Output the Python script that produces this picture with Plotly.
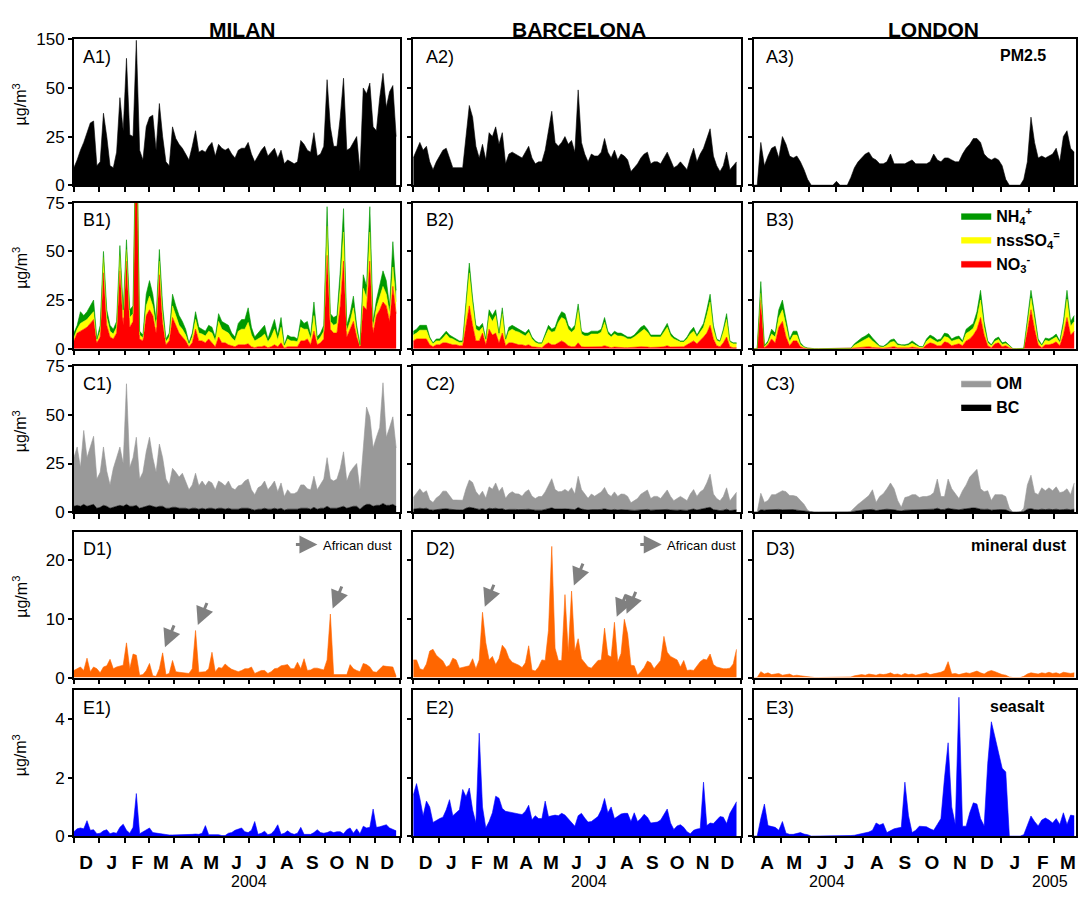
import plotly.graph_objects as go
import pandas as pd

# ---------------- DATA ----------------
# sampling grids (4-day steps)
mb_dates = [d.strftime('%Y-%m-%d') for d in pd.date_range('2003-12-01', periods=99, freq='4D')]
ld_dates = [d.strftime('%Y-%m-%d') for d in pd.date_range('2004-04-01', periods=90, freq='4D')]

months_mb = ['D', 'J', 'F', 'M', 'A', 'M', 'J', 'J', 'A', 'S', 'O', 'N', 'D']
months_ld = ['A', 'M', 'J', 'J', 'A', 'S', 'O', 'N', 'D', 'J', 'F', 'M']
cities = ['MILAN', 'BARCELONA', 'LONDON']

# ---- MILAN ----
pm25_mil = [9, 13, 18, 22, 27, 32, 33, 10, 12, 37,
            25, 10, 9, 17, 45, 28, 111, 26, 25, 148,
            18, 13, 30, 35, 36, 18, 42, 25, 12, 10,
            30, 24, 21, 19, 16, 13, 20, 28, 17, 18,
            17, 20, 22, 15, 21, 19, 18, 19, 16, 14,
            18, 19, 19, 22, 16, 12, 15, 18, 20, 15,
            17, 19, 14, 18, 11, 13, 12, 11, 12, 23,
            21, 18, 17, 27, 15, 16, 20, 67, 30, 20,
            20, 35, 70, 18, 19, 22, 25, 7, 50, 47,
            60, 30, 28, 45, 80, 40, 48, 55, 25]
no3_mil = [4, 8, 9, 10, 11, 13, 15, 3, 6, 39,
           12, 6, 5, 8, 40, 12, 45, 11, 14, 115,
           5, 4, 17, 20, 17, 8, 38, 13, 2, 4,
           16, 12, 8, 6, 4, 1, 3, 10, 4, 4,
           3, 5, 3, 1, 6, 3, 3, 2, 1.5, 1,
           2, 2, 2, 2.5, 1, 0.5, 1, 1, 1.5, 0.5,
           1, 2, 1, 3, 0.2, 1, 1, 1, 1, 4,
           4, 5, 2, 9, 2, 3, 5, 48, 10, 8,
           8, 22, 45, 6, 10, 14, 6, 1, 22, 20,
           45, 8, 17, 20, 24, 22, 14, 32, 18]
so4_mil = [1.5, 2, 4, 4, 4, 4, 4, 1, 3, 8,
           4, 3, 2.5, 3, 8, 4, 6, 5, 4, 10,
           2, 1.5, 5, 7, 5, 3, 7, 4, 1.5, 2,
           6, 5, 4, 4, 3, 1, 3, 5, 4, 3.5,
           3.5, 4, 5, 3, 8, 7, 6, 6, 4, 3,
           7, 8, 8, 11, 6, 3.5, 4, 5, 6, 3,
           5, 8, 3.5, 8, 1, 4, 3, 3, 2.5, 7,
           6, 5, 3, 8, 2, 3, 4, 15, 4, 4,
           5, 10, 15, 3, 4, 7, 3, 0.5, 9, 6,
           15, 3, 4, 6, 8, 6, 4, 10, 6]
nh4_mil = [2.5, 2, 6, 3, 4, 5, 6, 1, 3, 3,
           4, 3, 2.5, 3, 5, 4, 5, 4, 4, 5,
           2, 1.5, 6, 8, 6, 4, 6, 5, 1.5, 2,
           6, 5, 5, 4, 3, 1, 2, 4, 3, 2.5,
           2.5, 3, 3, 2, 4, 4, 4, 4, 2.5, 2,
           4, 5, 5, 7.5, 4, 2, 3, 4, 4.5, 1.5,
           4, 5, 2.5, 5, 0.8, 2, 2, 2, 1.5, 4,
           3, 4, 2, 7, 2, 2, 3, 10, 4, 4,
           4, 8, 12, 3, 4, 6, 3, 0.5, 7, 6,
           13, 3, 4, 7, 8, 7, 4, 13, 6]
om_mil = [25, 30, 20, 38, 25, 30, 35, 15, 18, 30,
          18, 12, 20, 25, 30, 22, 62, 20, 25, 35,
          15, 18, 28, 35, 25, 18, 32, 25, 15, 12,
          20, 18, 16, 18, 14, 10, 12, 18, 12, 14,
          12, 14, 13, 10, 14, 13, 12, 14, 11, 10,
          12, 12, 14, 15, 10, 8, 11, 12, 14, 10,
          12, 14, 9, 13, 7, 10, 8, 8, 9, 12,
          12, 10, 10, 16, 10, 12, 15, 25, 15, 14,
          15, 20, 28, 14, 18, 20, 22, 10, 30, 50,
          45, 30, 35, 40, 62, 35, 40, 45, 30]
bc_mil = [3, 3.5, 3, 4, 3, 3.5, 4, 2, 2.5, 3.5,
          3, 2, 2.5, 3, 3.5, 3, 4, 3, 3, 3.5,
          2, 2.5, 3, 3.5, 3, 2.5, 3, 3, 2, 2,
          2.5, 2.5, 2, 2, 2, 1.5, 2, 2, 1.5, 2,
          1.5, 2, 2, 1.5, 2, 2, 1.5, 2, 1.5, 1.5,
          1.5, 2, 2, 2, 1.5, 1, 1.5, 1.5, 2, 1.5,
          1.5, 2, 1.5, 2, 1, 1.5, 1.5, 1.5, 1.5, 2,
          2, 2, 1.5, 2.5, 1.5, 2, 2, 3, 2, 2,
          2, 2.5, 3, 2, 2.5, 3, 3, 1.5, 3, 4,
          4, 3, 3.5, 3.5, 4.5, 3.5, 3.5, 4, 3]
dust_mil = [1.2, 1.5, 1.8, 1.2, 3.3, 1.0, 1.8, 1.5, 0.8, 1.8,
            2.0, 3.1, 1.5, 1.8, 1.9, 2.1, 5.9, 1.5, 4.0, 3.8,
            0.4, 0.5, 1.2, 2.4, 0.3, 0.2, 1.5, 4.2, 0.5, 0.7,
            2.9, 1.0, 0.9, 0.8, 0.8, 0.7, 1.5, 8.0, 0.9, 0.9,
            1.0, 1.5, 4.3, 1.0, 1.7, 1.6, 2.3, 1.8, 1.4, 1.2,
            1.0, 1.2, 1.5, 1.5, 1.8, 0.7, 0.9, 1.2, 1.2, 0.7,
            1.0, 1.5, 1.6, 2.0, 2.1, 2.2, 1.5, 1.5, 2.6, 1.5,
            3.2, 1.2, 1.3, 1.6, 1.6, 1.4, 1.3, 3.0, 10.8, 0.5,
            0.5, 0.5, 0.4, 0.5, 2.2, 1.5, 1.2, 1.0, 2.4, 2.2,
            1.8, 1.0, 0.9, 1.5, 2.0, 1.9, 1.8, 1.8, 0.2]
salt_mil = [0.15, 0.25, 0.28, 0.25, 0.53, 0.2, 0.22, 0.08, 0.1, 0.18,
            0.22, 0.08, 0.12, 0.1, 0.3, 0.41, 0.2, 0.1, 0.3, 1.46,
            0.08, 0.15, 0.2, 0.28, 0.12, 0.1, 0.08, 0.08, 0.06, 0.04,
            0.04, 0.04, 0.05, 0.05, 0.05, 0.05, 0.06, 0.07, 0.06, 0.1,
            0.36, 0.05, 0.05, 0.06, 0.05, 0.02, 0.02, 0.1, 0.12, 0.2,
            0.25, 0.28, 0.15, 0.12, 0.2, 0.5, 0.06, 0.1, 0.17, 0.05,
            0.08, 0.2, 0.39, 0.06, 0.1, 0.18, 0.1, 0.06, 0.1, 0.3,
            0.06, 0.06, 0.06, 0.12, 0.22, 0.12, 0.1, 0.12, 0.17, 0.12,
            0.15, 0.15, 0.08, 0.22, 0.28, 0.1, 0.25, 0.08, 0.34, 0.28,
            0.3, 0.93, 0.3, 0.32, 0.35, 0.39, 0.28, 0.22, 0.18]
dust_arrows_mil = [27, 37, 78]

# ---- BARCELONA ----
pm25_bcn = [14, 18, 22, 18, 20, 12, 8, 12, 15, 18,
            19, 14, 9, 9, 9, 9, 25, 41, 35, 20,
            14, 21, 13, 27, 25, 30, 21, 27, 11, 16,
            17, 16, 15, 14, 17, 20, 14, 11, 12, 12,
            18, 28, 38, 22, 20, 22, 25, 21, 23, 17,
            49, 22, 16, 12, 16, 15, 15, 17, 24, 17,
            14, 18, 13, 16, 15, 13, 7, 9, 11, 14,
            16, 17, 11, 12, 12, 11, 14, 17, 13, 9,
            10, 12, 10, 8, 14, 19, 12, 16, 19, 24,
            29, 15, 10, 7, 10, 17, 8, 10, 12]
no3_bcn = [4, 5, 5, 5, 5, 2, 1, 2, 2, 3,
           3, 2.5, 2, 2, 1.5, 1.5, 12, 22, 12, 4,
           4, 8, 2, 10, 7, 8, 3, 8, 1.5, 3,
           3, 2.5, 2, 2, 1.5, 2, 1, 0.8, 0.5, 0.5,
           2, 3, 2, 2, 3, 4, 3, 1.5, 1, 1,
           3, 1, 0.8, 0.8, 0.8, 0.8, 0.8, 1, 1.5, 0.8,
           0.5, 0.8, 0.6, 0.6, 0.5, 0.5, 0.5, 0.6, 0.8, 1,
           1, 0.8, 0.6, 0.6, 0.6, 0.8, 1, 1.5, 0.8, 0.8,
           0.8, 1, 1, 2, 3, 4, 2.5, 4, 6, 8,
           12, 5, 1.5, 1, 3, 6, 1, 0.5, 0.5]
so4_bcn = [3, 3, 4.5, 4.5, 4.5, 3, 1.5, 2, 2, 2.5,
           4.5, 3, 3, 2, 1.7, 1.7, 10, 17, 11, 6,
           5, 3, 2, 7, 7, 9, 3.5, 10, 2.5, 6,
           7, 6.5, 6.5, 5.5, 5, 6.5, 4, 2.4, 2, 2,
           4.5, 7, 6.5, 7, 10.5, 12, 12, 8.5, 7.5, 9,
           17, 6.5, 5.7, 5.7, 6.7, 6.7, 6.7, 7.5, 12, 6.7,
           5.5, 6.7, 5.9, 5.9, 5.5, 4.5, 4.5, 5.4, 6.7, 8,
           9, 7.7, 5.4, 5.4, 5.4, 5.2, 7.5, 9.5, 5.7, 4.2,
           3.4, 2.4, 2.4, 3, 4.5, 5, 3.5, 4.5, 5, 9,
           12, 5, 2.7, 2.4, 5.5, 9, 2.4, 2, 2]
nh4_bcn = [2, 2, 2.5, 2.5, 2.5, 1, 0.5, 1, 1, 1.5,
           1.5, 1.5, 1, 1, 0.8, 0.8, 3, 5, 3, 2,
           2, 2, 1, 3, 3, 3, 1.5, 3, 1, 2,
           2, 2, 1.5, 1.5, 1.5, 1.5, 1, 0.8, 0.5, 0.5,
           1.5, 2, 1.5, 2, 2.5, 3, 3, 2, 1.5, 2,
           3, 1.5, 1.5, 1.5, 1.5, 1.5, 1.5, 1.5, 2.5, 1.5,
           1, 1.5, 1.5, 1.5, 1, 1, 1, 1, 1.5, 2,
           2, 1.5, 1, 1, 1, 1, 1.5, 2, 1.5, 1,
           0.8, 0.6, 0.6, 1, 1.5, 2, 1, 1.5, 2, 3,
           4, 2, 0.8, 0.6, 1.5, 3, 0.6, 0.5, 0.5]
om_bcn = [6, 8, 10, 8, 9, 5, 4, 6, 7, 9,
          9, 7, 5, 5, 5, 5, 10, 14, 13, 9,
          7, 9, 6, 11, 10, 13, 9, 11, 6, 8,
          9, 8, 8, 7, 9, 10, 7, 6, 7, 7,
          9, 12, 15, 10, 9, 9, 10, 9, 11, 8,
          16, 10, 8, 6, 8, 7, 8, 9, 11, 8,
          7, 9, 7, 8, 8, 7, 4, 5, 6, 8,
          9, 10, 6, 7, 7, 6, 8, 10, 7, 5,
          6, 7, 6, 5, 8, 10, 7, 9, 10, 13,
          17, 8, 6, 5, 7, 11, 5, 7, 9]
bc_bcn = [1.5, 1.8, 2, 1.8, 2, 1.2, 1, 1.3, 1.5, 1.8,
          1.8, 1.5, 1.2, 1.2, 1.1, 1.1, 2, 2.5, 2.2, 1.6,
          1.4, 1.8, 1.2, 2, 1.8, 2, 1.6, 1.8, 1.1, 1.4,
          1.5, 1.4, 1.3, 1.2, 1.4, 1.5, 1.2, 1, 1, 1,
          1.4, 1.8, 2.2, 1.6, 1.5, 1.6, 1.7, 1.5, 1.6, 1.3,
          2.4, 1.6, 1.3, 1.1, 1.3, 1.2, 1.3, 1.4, 1.7, 1.3,
          1.1, 1.4, 1.1, 1.3, 1.2, 1.1, 0.8, 0.9, 1, 1.2,
          1.3, 1.4, 1, 1.1, 1.1, 1, 1.2, 1.4, 1.1, 0.9,
          1, 1.1, 1, 0.9, 1.3, 1.6, 1.1, 1.4, 1.6, 2,
          2.5, 1.3, 1, 0.8, 1, 1.5, 0.8, 1, 1.2]
dust_bcn = [3.0, 3.0, 1.5, 1.3, 2.3, 4.5, 4.8, 3.8, 3.3, 2.8,
            1.8, 2.1, 3.3, 3.0, 1.6, 1.7, 1.9, 2.0, 3.2, 1.5,
            3.0, 11.1, 5.9, 3.0, 3.6, 2.2, 3.2, 5.5, 4.8, 3.3,
            2.6, 2.4, 2.1, 1.7, 2.5, 5.4, 1.3, 1.1, 1.8, 3.0,
            2.9, 8.0, 22.3, 5.0, 2.9, 2.9, 14.1, 4.3, 14.7, 4.5,
            6.6, 3.2, 2.5, 1.8, 1.6, 2.2, 2.9, 3.0, 8.4, 3.8,
            3.5, 9.4, 2.6, 4.1, 9.9, 7.4, 2.1, 2.0, 0.4, 1.0,
            1.7, 2.8, 2.5, 1.5, 2.3, 2.9, 7.0, 4.3, 3.6, 3.3,
            3.0, 1.8, 2.9, 1.2, 1.3, 1.2, 2.0, 2.7, 3.1, 3.0,
            4.0, 2.2, 1.8, 1.6, 1.5, 1.5, 1.6, 2.3, 4.8]
salt_bcn = [1.4, 1.8, 1.3, 0.7, 1.2, 1.0, 0.47, 0.55, 0.6, 0.65,
            0.9, 1.25, 0.7, 0.8, 0.9, 1.6, 1.35, 1.65, 0.9, 0.45,
            3.53, 1.0, 0.28, 0.5, 0.8, 1.37, 1.3, 0.95, 0.85, 0.83,
            0.8, 0.78, 0.76, 0.74, 0.85, 1.06, 0.56, 0.7, 0.6, 0.6,
            1.2, 0.67, 0.7, 0.72, 0.7, 0.78, 0.72, 0.58, 0.46, 0.34,
            0.7, 0.78, 0.62, 0.48, 0.5, 0.58, 0.67, 0.9, 1.29, 0.8,
            1.0, 0.6, 0.68, 0.76, 0.78, 0.78, 0.5, 0.8, 0.5, 0.6,
            0.75, 0.65, 0.45, 0.46, 0.48, 0.55, 0.75, 0.93, 0.45, 0.23,
            0.35, 0.39, 0.3, 0.15, 0.08, 0.2, 0.24, 0.26, 1.85, 0.36,
            0.45, 0.43, 0.55, 0.67, 0.65, 0.43, 0.78, 1.0, 1.18]
dust_arrows_bcn = [21, 48, 61, 64]

# ---- LONDON ----
pm25_lon = [0, 0, 22, 10, 15, 19, 20, 14, 25, 21,
            15, 14, 15, 12, 8, 3, 0, 0, 0, 0,
            0, 0, 0, 2, 0, 0, 0, 4, 9, 12,
            14, 16, 17, 14, 13, 11, 11, 12, 16, 11,
            11, 11, 11, 12, 13, 11, 11, 11, 11, 12,
            16, 13, 12, 14, 14, 13, 12, 12, 16, 19,
            21, 24, 24, 22, 16, 14, 13, 14, 13, 10,
            3, 0, 0, 0, 0, 3, 12, 35, 22, 14,
            15, 14, 15, 16, 19, 12, 25, 28, 19, 17]
no3_lon = [0, 0, 25, 0.5, 2, 5, 3, 11, 14, 6,
           1.5, 4, 4, 1, 0.3, 0.1, 0, 0, 0, 0,
           0, 0, 0, 0, 0, 0, 0, 0, 0.3, 0.5,
           0.6, 0.8, 1, 0.6, 0.4, 0.2, 0.2, 0.4, 0.8, 1,
           0.4, 0.3, 0.3, 0.4, 0.8, 0.4, 0.2, 0.2, 2, 3,
           2.5, 1.5, 1.5, 3.5, 3, 1.5, 2, 2.5, 1.5, 4,
           5, 7, 10, 16, 7, 1.5, 0.5, 2.5, 3, 1,
           1.5, 0.5, 0, 0, 0, 0, 9, 20, 10, 2,
           0.5, 2, 2, 2.5, 3.5, 1.5, 7, 16, 7, 9]
so4_lon = [0, 0, 3.5, 0.5, 1, 2.5, 3, 5, 6, 5,
           2, 3, 3, 1, 0.4, 0.1, 0, 0, 0, 0,
           0, 0, 0, 0, 0, 0, 0, 0.1, 1.4, 2.3,
           3.4, 4.2, 4.8, 3.4, 2.1, 0.8, 0.6, 1.3, 2.5, 2.7,
           1.3, 1.1, 1.1, 1.4, 2, 1.3, 0.6, 0.5, 1.8, 2.5,
           2, 1.8, 2.3, 2.7, 2.7, 2.3, 2.5, 2.5, 1.5, 3.8,
           4, 3.5, 5.5, 9, 4, 1.5, 1, 1.3, 1.7, 1.2,
           1.2, 0.6, 0, 0, 0, 0.1, 3.5, 6, 5, 1.8,
           1, 2.3, 1.8, 2.2, 2.5, 1.5, 4.5, 9.5, 4.5, 5]
nh4_lon = [0, 0, 6, 0.5, 1, 2.5, 2, 4, 5, 4,
           1.5, 2, 2, 1, 0.3, 0.1, 0, 0, 0, 0,
           0, 0, 0, 0, 0, 0, 0, 0.1, 0.8, 1.2,
           1.5, 1.5, 2, 1.5, 1, 0.5, 0.4, 0.8, 1.2, 1.3,
           0.8, 0.6, 0.6, 0.7, 1.2, 0.8, 0.4, 0.3, 1.2, 1.5,
           1.5, 1.2, 1.2, 1.8, 1.8, 1.2, 1.5, 1.5, 1, 2.2,
           2.5, 2.5, 3.5, 5, 3, 1, 0.5, 1.2, 1.3, 0.8,
           0.8, 0.4, 0, 0, 0, 0.1, 2.5, 4, 3, 1.2,
           0.5, 1.2, 1.2, 1.3, 1.5, 1, 2.5, 4.5, 2.5, 3]
om_lon = [0, 0, 8.5, 4, 4.8, 7.7, 7.8, 8.6, 9.8, 9.2,
          7.4, 7.2, 7, 5.2, 3.5, 0.8, 0, 0, 0, 0,
          0, 0, 0, 0, 0, 0, 0, 0.4, 2, 3.2,
          4.5, 5.8, 7.2, 10.1, 4.2, 6.8, 8.2, 10.5, 13.6, 10.8,
          5.2, 1.9, 6.5, 6.9, 7.8, 7.8, 6.4, 6.8, 6.7, 7.1,
          8.5, 15, 6.7, 6.6, 15, 10.4, 8.1, 5.8, 9.5, 12.2,
          16, 17.8, 20, 10.5, 9.1, 9.5, 5, 7.7, 7.7, 7.7,
          6.8, 1.6, 0, 0, 0, 1.7, 12.5, 17.2, 8.7, 7.8,
          11, 9.7, 11, 9.7, 11.5, 8.8, 9.2, 10.5, 7.8, 13.5]
bc_lon = [0, 0, 1.2, 1, 1.2, 1.3, 1.2, 1.4, 1.2, 1.3,
          1.1, 1.3, 1, 0.8, 0.5, 0.2, 0, 0, 0, 0,
          0, 0, 0, 0, 0, 0, 0, 0.1, 0.5, 0.8,
          1, 1.2, 1.3, 1.4, 0.8, 1.2, 1.3, 1.5, 1.4, 1.2,
          0.8, 0.6, 1, 1.1, 1.2, 1.2, 1.1, 1.2, 1.3, 1.4,
          1.5, 2, 1.3, 1.4, 2, 1.6, 1.4, 1.2, 1.5, 1.8,
          2, 2.2, 2, 1.5, 1.4, 1.5, 1, 1.3, 1.3, 1.3,
          1.2, 0.4, 0, 0, 0, 0.3, 1.5, 1.8, 1.3, 1.2,
          1.5, 1.3, 1.5, 1.3, 1.5, 1.2, 1.3, 1.5, 1.2, 1.5]
dust_lon = [0, 0, 1.0, 0.6, 0.8, 0.5, 0.6, 0.7, 0.4, 0.5,
            0.6, 0.3, 0.4, 0.3, 0.2, 0.1, 0, 0, 0, 0,
            0, 0, 0, 0, 0, 0, 0, 0.1, 0.3, 0.4,
            0.5, 0.4, 0.6, 0.5, 0.4, 0.6, 0.5, 0.6, 0.8, 0.5,
            0.6, 0.4, 0.7, 0.5, 0.6, 0.4, 0.5, 0.6, 0.8, 0.5,
            0.6, 0.7, 0.9, 1.2, 2.7, 0.6, 0.7, 0.5, 0.6, 0.8,
            0.7, 0.9, 1.1, 0.8, 0.6, 1.0, 1.2, 1.0, 0.7, 0.5,
            0.4, 0.1, 0, 0, 0, 0.2, 0.6, 0.8, 0.7, 0.6,
            0.8, 0.7, 0.9, 0.7, 0.8, 0.6, 0.9, 0.8, 0.7, 0.8]
salt_lon = [0, 0, 0.6, 1.1, 0.36, 0.33, 0.3, 0.2, 0.5, 0.1,
            0.06, 0.06, 0.08, 0.12, 0.07, 0.05, 0, 0, 0, 0,
            0, 0, 0, 0, 0, 0, 0, 0.02, 0.03, 0.06,
            0.08, 0.1, 0.14, 0.2, 0.45, 0.38, 0.43, 0.12, 0.18, 0.25,
            0.28, 0.3, 1.85, 0.7, 0.12, 0.2, 0.34, 0.34, 0.32, 0.25,
            0.2, 0.4, 0.6, 2.0, 3.2, 1.0, 0.4, 4.76, 0.34, 0.34,
            0.8, 1.14, 1.1, 0.6, 0.35, 2.5, 3.92, 3.4, 2.9, 2.33,
            2.2, 0, 0, 0, 0, 0.05, 0.4, 0.69, 0.5, 0.35,
            0.55, 0.62, 0.55, 0.45, 0.6, 0.4, 0.8, 0.4, 0.72, 0.7]

# ---------------- LAYOUT HELPERS ----------------
W, H = 1078, 898
FONT = "Liberation Sans, Arial, Helvetica, sans-serif"
COL_PX = [(74, 401), (414, 742), (755, 1078)]
ROW_PX = [(31, 180), (198, 347), (365, 514), (534, 683), (696, 845)]


def fx(p):
    return p / W


def fy(p):
    return 1 - p / H


def axn(k):
    return ('' if k == 1 else str(k))


C_PM, C_NO3, C_SO4, C_NH4 = '#000000', '#ff0000', '#ffff00', '#009900'
C_OM, C_BC, C_DUST, C_SALT = '#999999', '#000000', '#ff6600', '#0000ff'


def broken(v):
    # broken y-axis in row A: 0-50 linear, 50-150 compressed into one tick step
    return [x if x <= 50 else 50 + (x - 50) / 4.0 for x in v]


city_data = [
    dict(d=mb_dates, pm=pm25_mil, no3=no3_mil, so4=so4_mil, nh4=nh4_mil, om=om_mil, bc=bc_mil, dust=dust_mil, salt=salt_mil),
    dict(d=mb_dates, pm=pm25_bcn, no3=no3_bcn, so4=so4_bcn, nh4=nh4_bcn, om=om_bcn, bc=bc_bcn, dust=dust_bcn, salt=salt_bcn),
    dict(d=ld_dates, pm=pm25_lon, no3=no3_lon, so4=so4_lon, nh4=nh4_lon, om=om_lon, bc=bc_lon, dust=dust_lon, salt=salt_lon),
]

fig = go.Figure()


def area(k, dates, vals, color, name='', stack=None, legend=None):
    kw = dict(x=dates[:len(vals)], y=vals, mode='lines', line=dict(color=color, width=0.6),
              fillcolor=color, xaxis='x' + axn(k), yaxis='y' + axn(k), hoverinfo='skip',
              name=name, showlegend=legend is not None)
    if stack:
        kw['stackgroup'] = stack
    else:
        kw['fill'] = 'tozeroy'
    if legend:
        kw['legend'] = legend
    fig.add_trace(go.Scatter(**kw))


for c, cd in enumerate(city_data):
    d = cd['d']
    k = 0 * 3 + c + 1
    area(k, d, broken(cd['pm']), C_PM)
    k = 1 * 3 + c + 1
    lg = 'legend' if c == 2 else None
    area(k, d, cd['no3'], C_NO3, '<b>NO<sub>3</sub><sup>-</sup></b>', stack='b%d' % c, legend=lg)
    area(k, d, cd['so4'], C_SO4, '<b>nssSO<sub>4</sub><sup>=</sup></b>', stack='b%d' % c, legend=lg)
    area(k, d, cd['nh4'], C_NH4, '<b>NH<sub>4</sub><sup>+</sup></b>', stack='b%d' % c, legend=lg)
    k = 2 * 3 + c + 1
    lg = 'legend2' if c == 2 else None
    area(k, d, cd['bc'], C_BC, '<b>BC</b>', stack='c%d' % c, legend=lg)
    area(k, d, cd['om'], C_OM, '<b>OM</b>', stack='c%d' % c, legend=lg)
    k = 3 * 3 + c + 1
    area(k, d, cd['dust'], C_DUST)
    k = 4 * 3 + c + 1
    area(k, d, cd['salt'], C_SALT)

# ---------------- AXES ----------------
ms_mb = [d.strftime('%Y-%m-%d') for d in pd.date_range('2003-12-01', '2005-01-01', freq='MS')]
ms_ld = [d.strftime('%Y-%m-%d') for d in pd.date_range('2004-04-01', '2005-04-01', freq='MS')]
mid_mb = [(pd.Timestamp(m) + pd.Timedelta(days=15)).strftime('%Y-%m-%d') for m in ms_mb[:13]]
mid_ld = [(pd.Timestamp(m) + pd.Timedelta(days=15)).strftime('%Y-%m-%d') for m in ms_ld[:12]]

Y_RANGES = [75, 75, 75, 24.8, 5.0]
Y_TICKS = [([0, 25, 50, 75], ['0', '25', '50', '150']),
           ([0, 25, 50, 75], ['0', '25', '50', '75']),
           ([0, 25, 50, 75], ['0', '25', '50', '75']),
           ([0, 10, 20], ['0', '10', '20']),
           ([0, 2, 4], ['0', '2', '4'])]

layout = dict()
for r in range(5):
    for c in range(3):
        k = r * 3 + c + 1
        if c < 2:
            rng, starts, mids, letters = ['2003-12-01', '2005-01-01'], ms_mb, mid_mb, months_mb
        else:
            rng, starts, mids, letters = ['2004-04-01', '2005-03-25'], ms_ld, mid_ld, months_ld
        layout['xaxis' + axn(k)] = dict(
            domain=[fx(COL_PX[c][0]), fx(COL_PX[c][1])], range=rng, type='date',
            anchor='y' + axn(k), showline=True, linecolor='black', linewidth=1.5, mirror=True,
            showgrid=False, zeroline=False,
            tickmode='array', tickvals=mids, ticktext=['<b>%s</b>' % t for t in letters],
            ticks='outside', ticklen=0, tickcolor='black',
            showticklabels=(r == 4), ticklabelstandoff=8,
            tickfont=dict(size=19, family=FONT, color='black'),
            minor=dict(tickmode='array', tickvals=starts, ticks='outside', ticklen=5,
                       tickwidth=1.5, tickcolor='black', showgrid=False))
        tv, tt = Y_TICKS[r]
        layout['yaxis' + axn(k)] = dict(
            domain=[fy(ROW_PX[r][1]), fy(ROW_PX[r][0])], range=[0, Y_RANGES[r]],
            anchor='x' + axn(k), showline=True, linecolor='black', linewidth=1.5, mirror=True,
            showgrid=False, zeroline=False, tickmode='array', tickvals=tv, ticktext=tt,
            ticks='outside', ticklen=4, tickwidth=1.5, tickcolor='black',
            showticklabels=(c == 0), tickfont=dict(size=17, family=FONT, color='black'))

# ---------------- ANNOTATIONS ----------------
ann = []
lab_off = [7.5, 10.5, 10]
for r in range(5):
    for c in range(3):
        k = r * 3 + c + 1
        wpx = COL_PX[c][1] - COL_PX[c][0]
        hpx = ROW_PX[r][1] - ROW_PX[r][0]
        ann.append(dict(text='%s%d)' % ('ABCDE'[r], c + 1), xref='x%s domain' % axn(k),
                        yref='y%s domain' % axn(k), x=lab_off[c] / wpx, y=1 - 18.0 / hpx,
                        xanchor='left', yanchor='middle', showarrow=False,
                        font=dict(size=18, family=FONT, color='black')))

for r in range(5):
    yc = (ROW_PX[r][0] + ROW_PX[r][1]) / 2 - 8
    ann.append(dict(text='µg/m<sup>3</sup>', xref='paper', yref='paper', x=fx(20), y=fy(yc),
                    textangle=-90, showarrow=False, xanchor='center', yanchor='middle',
                    font=dict(size=16, family=FONT, color='black')))

for name, xc in zip(cities, [243, 580, 935]):
    ann.append(dict(text='<b>%s</b>' % name, xref='paper', yref='paper', x=fx(xc), y=fy(21),
                    showarrow=False, xanchor='center', yanchor='middle',
                    font=dict(size=21, family=FONT, color='black')))

for txt, xc, yc in [('PM2.5', 1025, 48), ('mineral dust', 1021, 548), ('seasalt', 1019, 713)]:
    ann.append(dict(text='<b>%s</b>' % txt, xref='paper', yref='paper', x=fx(xc), y=fy(yc),
                    showarrow=False, xanchor='center', yanchor='middle',
                    font=dict(size=16, family=FONT, color='black')))

# year labels
for k, xd, yr in [(13, '2004-07-01', '2004'), (14, '2004-07-01', '2004'),
                  (15, '2004-06-22', '2004'), (15, '2005-02-24', '2005')]:
    ann.append(dict(text=yr, xref='x%d' % k, yref='paper', x=xd, y=fy(891), showarrow=False,
                    xanchor='center', yanchor='middle', font=dict(size=16, family=FONT, color='black')))

# African dust legend + arrows
for xhead, xtext in [(318, 322), (663, 666)]:
    ann.append(dict(text='', xref='paper', yref='paper', x=fx(xhead), y=fy(547), ax=-23, ay=0,
                    showarrow=True, arrowhead=2, arrowsize=1.2, arrowwidth=3, arrowcolor='#808080'))
    ann.append(dict(text='African dust', xref='paper', yref='paper', x=fx(xtext), y=fy(548),
                    showarrow=False, xanchor='left', yanchor='middle',
                    font=dict(size=13, family=FONT, color='black')))

for k, dates, vals, idxs in [(10, mb_dates, dust_mil, dust_arrows_mil), (11, mb_dates, dust_bcn, dust_arrows_bcn)]:
    for i in idxs:
        ann.append(dict(text='', xref='x%d' % k, yref='y%d' % k, x=dates[i], y=vals[i],
                        ax=12, ay=-29, standoff=6, showarrow=True, arrowhead=2, arrowsize=1.2,
                        arrowwidth=3, arrowcolor='#808080'))

layout.update(dict(
    width=W, height=H, margin=dict(l=0, r=0, t=0, b=0),
    paper_bgcolor='white', plot_bgcolor='white', showlegend=True,
    font=dict(family=FONT, color='black'),
    annotations=ann,
    legend=dict(x=fx(958), y=fy(194), xanchor='left', yanchor='top', traceorder='reversed',
                font=dict(size=16, family=FONT, color='black'), bgcolor='rgba(0,0,0,0)',
                itemwidth=30, tracegroupgap=0),
    legend2=dict(x=fx(958), y=fy(365), xanchor='left', yanchor='top', traceorder='reversed',
                 font=dict(size=16, family=FONT, color='black'), bgcolor='rgba(0,0,0,0)',
                 itemwidth=30, tracegroupgap=0),
))
fig.update_layout(**layout)
fig.write_html('out.html', config={'displayModeBar': False},
               post_script="var d=document.querySelector('.plotly-graph-div');"
                           "d.style.position='absolute';d.style.left='0px';d.style.top='0px';"
                           "var s=document.documentElement.style, b=document.body.style;"
                           "b.margin='0';b.padding='0';s.margin='0';s.padding='0';"
                           "s.overflow='hidden';b.overflow='hidden';")
